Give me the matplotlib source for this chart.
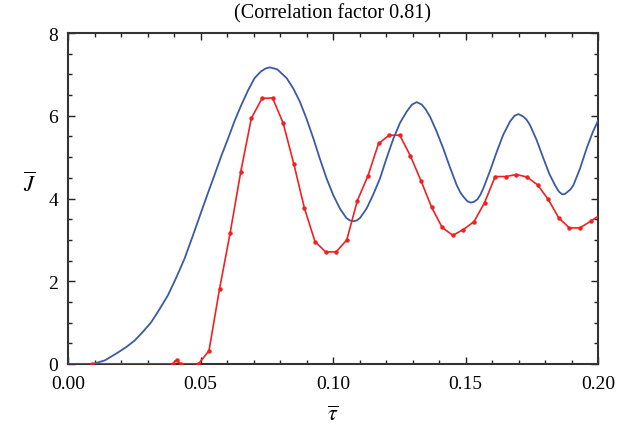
import matplotlib
matplotlib.use("Agg")
import matplotlib.pyplot as plt
from matplotlib.ticker import MultipleLocator, FormatStrFormatter

plt.rcParams['font.family'] = ['Liberation Serif', 'DejaVu Serif']
plt.rcParams['mathtext.fontset'] = 'stix'

# Theoretical curve (blue)
tau_theory = [0.0, 0.0094, 0.0140, 0.0189, 0.0220, 0.0252, 0.0283, 0.0314, 0.0345,
              0.0377, 0.0408, 0.0440, 0.0470, 0.0503, 0.0528, 0.0553, 0.0578, 0.0604,
              0.0629, 0.0654, 0.0680, 0.0704, 0.0728, 0.0745, 0.0762, 0.0790, 0.0825,
              0.0850, 0.0875, 0.0900, 0.0926, 0.0950, 0.0976, 0.1001, 0.1026, 0.1050,
              0.1064, 0.1077, 0.1090, 0.1102, 0.1127, 0.1152, 0.1177, 0.1202, 0.1228,
              0.1253, 0.1278, 0.1298, 0.1316, 0.1335, 0.1350, 0.1366, 0.1391, 0.1416,
              0.1441, 0.1467, 0.1481, 0.1495, 0.1508, 0.1520, 0.1532, 0.1545, 0.1556,
              0.1567, 0.1592, 0.1618, 0.1643, 0.1668, 0.1685, 0.1700, 0.1718, 0.1731,
              0.1743, 0.1768, 0.1794, 0.1816, 0.1838, 0.1852, 0.1865, 0.1875, 0.1885,
              0.1896, 0.1907, 0.1932, 0.1957, 0.1980, 0.2000]
J_theory = [0.0, 0.0, 0.09, 0.28, 0.41, 0.57, 0.78, 1.01, 1.32,
            1.66, 2.08, 2.55, 3.08, 3.68, 4.13, 4.57, 5.02, 5.45,
            5.88, 6.26, 6.62, 6.91, 7.07, 7.14, 7.17, 7.12, 6.91,
            6.66, 6.34, 5.93, 5.45, 4.97, 4.48, 4.08, 3.76, 3.53,
            3.47, 3.45, 3.47, 3.53, 3.76, 4.10, 4.48, 4.97, 5.45,
            5.83, 6.10, 6.27, 6.33, 6.27, 6.15, 5.98, 5.62, 5.21,
            4.76, 4.32, 4.14, 4.02, 3.93, 3.90, 3.92, 3.98, 4.09,
            4.24, 4.66, 5.13, 5.55, 5.86, 6.00, 6.04, 5.98, 5.90,
            5.78, 5.42, 4.97, 4.60, 4.32, 4.17, 4.10, 4.11, 4.16,
            4.22, 4.32, 4.72, 5.21, 5.60, 5.88]

# Measured data (red)
tau_meas = [0.0091, 0.0395, 0.0410, 0.0425, 0.0492, 0.0532, 0.0572, 0.0612, 0.0652,
            0.0692, 0.0732, 0.0772, 0.0812, 0.0852, 0.0892, 0.0932, 0.0972, 0.1012,
            0.1052, 0.1092, 0.1132, 0.1172, 0.1212, 0.1252, 0.1292, 0.1332, 0.1372,
            0.1412, 0.1452, 0.1492, 0.1532, 0.1572, 0.1612, 0.1652, 0.1692, 0.1732,
            0.1772, 0.1812, 0.1852, 0.1892, 0.1932, 0.1972, 0.2012]
J_meas = [0.0, 0.0, 0.10, 0.0, 0.0, 0.32, 1.82, 3.17, 4.65,
          5.94, 6.42, 6.43, 5.82, 4.84, 3.77, 2.96, 2.71, 2.71,
          3.00, 3.95, 4.55, 5.33, 5.53, 5.53, 5.03, 4.43, 3.79,
          3.30, 3.11, 3.25, 3.44, 3.90, 4.53, 4.53, 4.58, 4.52,
          4.33, 3.98, 3.53, 3.29, 3.29, 3.45, 3.62]

fig = plt.figure(figsize=(6.23, 4.27), dpi=100)
ax = fig.add_axes([68/623, 62/427, 530/623, 331/427])

ax.plot(tau_theory, J_theory, color='#3a5aa8', lw=1.3, zorder=3,
        solid_joinstyle='round')
ax.plot(tau_meas, J_meas, color='#ee2222', lw=1.2, marker='o', ms=2.2,
        mec='#ee2222', mfc='#ee2222', zorder=4)

ax.set_xlim(0, 0.2)
ax.set_ylim(0, 8)
ax.xaxis.set_major_locator(MultipleLocator(0.05))
ax.xaxis.set_minor_locator(MultipleLocator(0.01))
ax.yaxis.set_major_locator(MultipleLocator(2))
ax.yaxis.set_minor_locator(MultipleLocator(0.5))
ax.xaxis.set_major_formatter(FormatStrFormatter('%.2f'))
ax.tick_params(which='both', direction='in', top=True, right=True,
               labelsize=14, width=1.0, color='#222222')
ax.tick_params(which='major', length=5)
ax.tick_params(axis='x', which='major', pad=8)
ax.tick_params(axis='y', which='major', pad=7)
ax.tick_params(which='minor', length=3)
for s in ax.spines.values():
    s.set_linewidth(1.5)
    s.set_color('#333333')

ax.set_title('(Correlation factor 0.81)', fontsize=14.5, pad=11)
ax.set_xlabel(r'$\overline{\tau}$', fontsize=16)
ax.xaxis.set_label_coords(0.5, -0.125)
ax.set_ylabel(r'$\overline{J}$', fontsize=16, rotation=0, va='center')
ax.yaxis.set_label_coords(-0.072, 0.545)

fig.savefig('out.png', dpi=100)
